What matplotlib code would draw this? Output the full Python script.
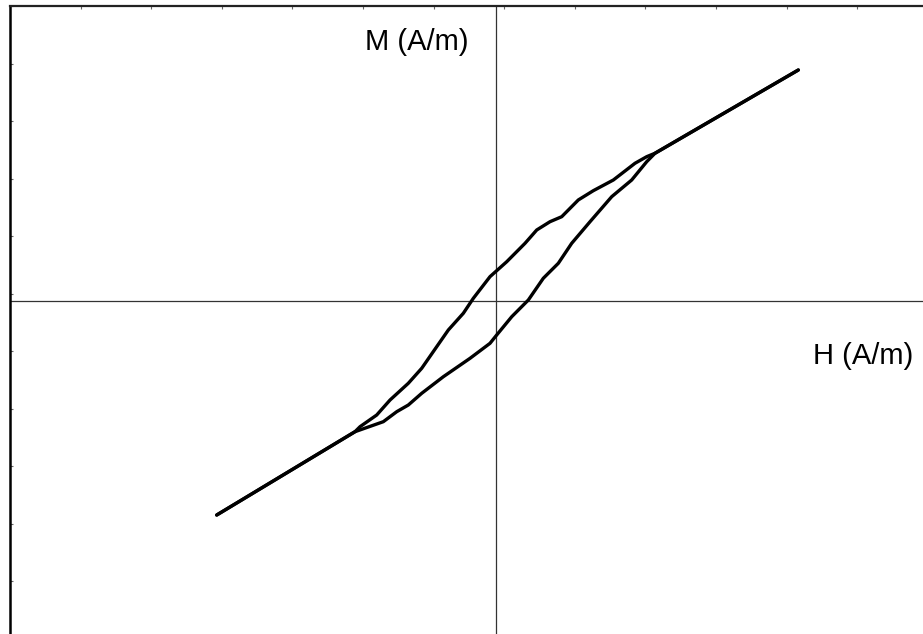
import numpy as np
import matplotlib
matplotlib.use('Agg')
import matplotlib.pyplot as plt

# hysteresis loop, ascending branch (lower) then descending branch (upper)
H_up = [-3.952, -1.993, -1.592, -1.402, -1.238, -1.048, -0.742, -0.364, -0.081, 0.014,
        0.227, 0.462, 0.674, 0.887, 1.076, 1.336, 1.643, 1.926, 2.139, 2.256, 4.286]
M_up = [-3.722, -2.273, -2.099, -1.925, -1.809, -1.605, -1.317, -0.997, -0.736, -0.591,
        -0.273, 0.017, 0.395, 0.656, 1.003, 1.379, 1.814, 2.104, 2.423, 2.569, 4.017]

H_down = [4.286, 2.256, 2.139, 1.973, 1.666, 1.382, 1.170, 0.935, 0.769, 0.581, 0.415,
          0.156, -0.081, -0.317, -0.459, -0.671, -0.836, -1.048, -1.238, -1.497, -1.686,
          -1.922, -1.993, -3.952]
M_down = [4.017, 2.569, 2.510, 2.395, 2.104, 1.918, 1.757, 1.466, 1.379, 1.235, 1.003,
          0.683, 0.423, 0.047, -0.214, -0.504, -0.795, -1.170, -1.431, -1.722, -1.983,
          -2.186, -2.273, -3.722]

xlab = 'H (A/m)'
ylab = 'M (A/m)'

W, Hh = 923, 634
fig = plt.figure(figsize=(W / 100, Hh / 100), dpi=100, facecolor='white')
# axes frame runs off the right and bottom of the picture
ax = fig.add_axes([10 / W, -20 / Hh, 930 / W, (Hh - 6 + 20) / Hh])

ax.set_xlim(-6.880, 6.293)
ax.set_ylim(-6.139, 5.130)

ax.axhline(0, color='#333333', lw=0.9, zorder=1)
ax.axvline(0, color='#333333', lw=0.9, zorder=1)

ax.plot(H_up, M_up, color='black', lw=2.4, solid_capstyle='round', solid_joinstyle='round', zorder=3)
ax.plot(H_down, M_down, color='black', lw=2.4, solid_capstyle='round', solid_joinstyle='round', zorder=3)

ax.text(-0.39, 4.50, ylab, ha='right', va='center', fontsize=21, family='Liberation Sans')
ax.text(5.92, -0.96, xlab, ha='right', va='center', fontsize=21, family='Liberation Sans')

ax.set_xticks(np.arange(-6.88, 6.3, 1.0))
ax.set_yticks(np.arange(5.13, -6.2, -1.0))
ax.tick_params(axis='both', direction='in', length=2.5, width=0.8, color='#666666',
               labelleft=False, labelbottom=False, left=True, bottom=False, top=True, right=False)
ax.spines['top'].set_color('#222222')
ax.spines['top'].set_linewidth(1.6)
ax.spines['left'].set_color('black')
ax.spines['left'].set_linewidth(1.8)
ax.spines['right'].set_visible(False)
ax.spines['bottom'].set_visible(False)

fig.savefig('out.png', dpi=100, facecolor='white')
